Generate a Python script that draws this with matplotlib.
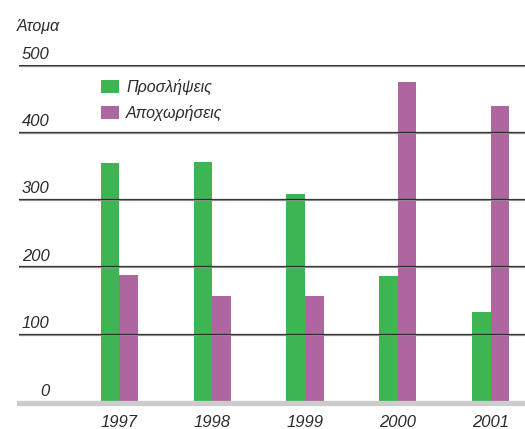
import matplotlib
matplotlib.use('Agg')
import matplotlib.pyplot as plt
import matplotlib.patheffects as pe
import numpy as np

# Data
years = ['1997', '1998', '1999', '2000', '2001']
hires = [354, 355, 308, 185, 132]        # Προσλήψεις
departures = [187, 156, 156, 474, 438]   # Αποχωρήσεις
y_ticks = [0, 100, 200, 300, 400, 500]

green = '#3db553'
purple = '#ad66a0'
txt = '#2b2b2b'

plt.rcParams['font.family'] = ['Liberation Sans', 'DejaVu Sans']

fig = plt.figure(figsize=(5.25, 4.29), dpi=100)
ax = fig.add_axes([19 / 525, (429 - 400.7) / 429, 506 / 525, 336 / 429])

x = np.arange(len(years))
w = 0.2
ax.bar(x - w / 2, hires, w, color=green, label='Προσλήψεις', zorder=2)
ax.bar(x + w / 2, departures, w, color=purple, label='Αποχωρήσεις', zorder=2)

ax.set_xlim(-1.08, 4.369)
ax.set_ylim(0, 500)

# horizontal rules with a light shadow underneath
for v in y_ticks[1:]:
    ax.axhline(v, color='#222222', lw=0.9, alpha=0.9, zorder=3,
               path_effects=[pe.SimpleLineShadow(offset=(0, -0.8), shadow_color='#999999', alpha=1),
                             pe.Normal()])

# y labels sit above each rule, at the left
for v in y_ticks:
    ax.annotate(str(v), (-0.752, v), xytext=(0, 2 if v else 1), textcoords='offset points',
                ha='right', va='bottom', fontsize=12, style='italic', color=txt)

ax.text(-1.10, 545, 'Άτομα', fontsize=11.5, style='italic', color=txt, ha='left', va='bottom',
        clip_on=False)

# year labels under the grey base line
for xi, yr in zip(x, years):
    ax.annotate(yr, (xi, 0), xytext=(0, -10.5), textcoords='offset points',
                ha='center', va='top', fontsize=12, style='italic', color=txt,
                annotation_clip=False)

ax.set_xticks([])
ax.set_yticks([])
for s in ['top', 'left', 'right']:
    ax.spines[s].set_visible(False)
ax.spines['bottom'].set_color('#cccccc')
ax.spines['bottom'].set_linewidth(3.8)
ax.spines['bottom'].set_position(('outward', 1.9))

ax.legend(loc='upper left', bbox_to_anchor=(0.163, 0.957), frameon=False,
          prop={'style': 'italic', 'size': 11.5}, handlelength=1.1, handleheight=0.85,
          handletextpad=0.45, labelspacing=0.62, borderpad=0, borderaxespad=0,
          labelcolor=txt)

fig.savefig('out.png', dpi=100)
